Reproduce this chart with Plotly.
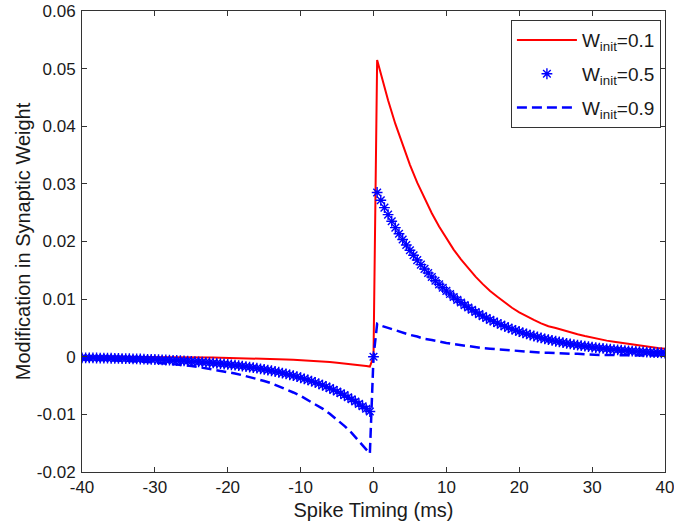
import plotly.graph_objects as go

# Sample times (ms) for the two line curves and the starred curve
t_lines = list(range(-40, 0)) + [-0.5, 0, 0.5] + list(range(1, 41))
t_stars = [i * 0.5 for i in range(-80, 81)]

# W_init = 0.1 (solid red), values at t_lines
w01_neg = [
    -0.00002, -0.00002, -0.00003, -0.00003, -0.00003, -0.00004, -0.00004,
    -0.00004, -0.00005, -0.00006, -0.00006, -0.00007, -0.00008, -0.00009,
    -0.00010, -0.00011, -0.00012, -0.00014, -0.00015, -0.00017, -0.00019,
    -0.00022, -0.00024, -0.00027, -0.00030, -0.00034, -0.00038, -0.00042,
    -0.00047, -0.00053, -0.00059, -0.00066, -0.00074, -0.00083, -0.00092,
    -0.00103, -0.00115, -0.00129, -0.00144, -0.00161]
w01_mid = [-0.0017, 0.0, 0.0515]
w01_pos = [
    0.0491, 0.0445, 0.0404, 0.0367, 0.0333, 0.0302, 0.0274, 0.0249, 0.0226,
    0.0205, 0.0186, 0.0169, 0.0153, 0.0139, 0.0126, 0.0114, 0.0104, 0.0094,
    0.0085, 0.0077, 0.0070, 0.0064, 0.0058, 0.0053, 0.0050, 0.0046, 0.0043,
    0.0039, 0.0036, 0.0033, 0.0030, 0.0028, 0.0026, 0.0024, 0.0022, 0.0020,
    0.0018, 0.0016, 0.0015, 0.0014]

# W_init = 0.9 (dashed blue), values at t_lines
w09_neg = [
    -0.0004, -0.0004, -0.0005, -0.0005, -0.0006, -0.0006, -0.0007, -0.0008,
    -0.0008, -0.0009, -0.0010, -0.0011, -0.0012, -0.0013, -0.0015, -0.0016,
    -0.0018, -0.0020, -0.0022, -0.0024, -0.0026, -0.0029, -0.0032, -0.0035,
    -0.0038, -0.0042, -0.0046, -0.0051, -0.0056, -0.0062, -0.0068, -0.0075,
    -0.0082, -0.0090, -0.0099, -0.0109, -0.0120, -0.0132, -0.0146, -0.0160]
w09_mid = [-0.0168, 0.0, 0.0057]
w09_pos = [
    0.0054, 0.0050, 0.0045, 0.0042, 0.0038, 0.0035, 0.0031, 0.0029, 0.0026,
    0.0024, 0.0022, 0.0020, 0.0018, 0.0017, 0.0015, 0.0014, 0.0013, 0.0011,
    0.0010, 0.0010, 0.0009, 0.0008, 0.0007, 0.0007, 0.0006, 0.0006, 0.0005,
    0.0005, 0.0004, 0.0004, 0.0003, 0.0003, 0.0003, 0.0003, 0.0002, 0.0002,
    0.0002, 0.0002, 0.0002, 0.0001]

# W_init = 0.5 (blue stars), values at t_stars
w05_neg = [
    -0.00018, -0.00019, -0.00020, -0.00021, -0.00022, -0.00023, -0.00024,
    -0.00025, -0.00026, -0.00028, -0.00029, -0.00031, -0.00032, -0.00034,
    -0.00036, -0.00037, -0.00039, -0.00041, -0.00044, -0.00046, -0.00048,
    -0.00051, -0.00053, -0.00056, -0.00059, -0.00062, -0.00065, -0.00069,
    -0.00072, -0.00076, -0.00080, -0.00084, -0.00089, -0.00093, -0.00098,
    -0.00103, -0.00108, -0.00114, -0.00120, -0.00126, -0.00133, -0.00140,
    -0.00147, -0.00154, -0.00162, -0.00171, -0.00180, -0.00189, -0.00199,
    -0.00209, -0.00220, -0.00231, -0.00243, -0.00256, -0.00269, -0.00283,
    -0.00298, -0.00313, -0.00329, -0.00346, -0.00364, -0.00383, -0.00403,
    -0.00424, -0.00446, -0.00469, -0.00493, -0.00518, -0.00545, -0.00574,
    -0.00603, -0.00634, -0.00667, -0.00702, -0.00738, -0.00776, -0.00817,
    -0.00859, -0.00903, -0.00950]
w05_zero = [0.0]
w05_pos = [
    0.02850, 0.02716, 0.02588, 0.02467, 0.02351, 0.02240, 0.02135, 0.02035,
    0.01939, 0.01848, 0.01761, 0.01678, 0.01599, 0.01524, 0.01453, 0.01384,
    0.01319, 0.01257, 0.01198, 0.01142, 0.01088, 0.01037, 0.00988, 0.00942,
    0.00897, 0.00855, 0.00815, 0.00777, 0.00740, 0.00705, 0.00672, 0.00641,
    0.00611, 0.00582, 0.00555, 0.00529, 0.00504, 0.00480, 0.00457, 0.00436,
    0.00415, 0.00396, 0.00377, 0.00360, 0.00343, 0.00327, 0.00311, 0.00297,
    0.00283, 0.00269, 0.00257, 0.00245, 0.00233, 0.00222, 0.00212, 0.00202,
    0.00192, 0.00183, 0.00175, 0.00166, 0.00159, 0.00151, 0.00144, 0.00137,
    0.00131, 0.00125, 0.00119, 0.00113, 0.00108, 0.00103, 0.00098, 0.00093,
    0.00089, 0.00085, 0.00081, 0.00077, 0.00073, 0.00070, 0.00067, 0.00064]

x_ticks = [-40, -30, -20, -10, 0, 10, 20, 30, 40]
x_tick_labels = ['-40', '-30', '-20', '-10', '0', '10', '20', '30', '40']
y_ticks = [-0.02, -0.01, 0, 0.01, 0.02, 0.03, 0.04, 0.05, 0.06]
y_tick_labels = ['-0.02', '-0.01', '0', '0.01', '0.02', '0.03', '0.04',
                 '0.05', '0.06']

FONT = 'Liberation Sans, Arial, sans-serif'
AXIS_COLOR = '#333333'
TEXT_COLOR = '#1a1a1a'

fig = go.Figure()

fig.add_trace(go.Scatter(
    x=t_lines, y=w01_neg + w01_mid + w01_pos,
    mode='lines', name='W<sub>init</sub>=0.1', legendgroup='a',
    line=dict(color='#ff0000', width=2)))

fig.add_trace(go.Scatter(
    x=t_stars, y=w05_neg + w05_zero + w05_pos,
    mode='markers', name='W<sub>init</sub>=0.5', legendgroup='b',
    marker=dict(symbol='asterisk-open', size=9, color='#0000ff',
                line=dict(color='#0000ff', width=1.4))))

fig.add_trace(go.Scatter(
    x=t_lines, y=w09_neg + w09_mid + w09_pos,
    mode='lines', name='W<sub>init</sub>=0.9', legendgroup='c',
    line=dict(color='#0000ff', width=2.5, dash='10px,5px')))

axis_common = dict(
    showgrid=False, zeroline=False, automargin=False,
    showline=True, linecolor=AXIS_COLOR, linewidth=1, mirror='ticks',
    ticks='inside', ticklen=5, tickcolor=AXIS_COLOR,
    ticklabeloverflow='allow',
    tickfont=dict(family=FONT, size=17, color=TEXT_COLOR))

fig.update_xaxes(
    range=[-40, 40], tickvals=x_ticks, ticktext=x_tick_labels,
    title=dict(text='Spike Timing (ms)', standoff=6,
               font=dict(family=FONT, size=20, color=TEXT_COLOR)),
    **axis_common)
fig.update_yaxes(
    range=[-0.02, 0.06], tickvals=y_ticks, ticktext=y_tick_labels,
    ticklabelstandoff=2,
    title=dict(text='Modification in Synaptic Weight', standoff=0,
               font=dict(family=FONT, size=20, color=TEXT_COLOR)),
    **axis_common)

fig.update_layout(
    width=674, height=531,
    margin=dict(l=82, r=9, t=11, b=59),
    paper_bgcolor='white', plot_bgcolor='white',
    font=dict(family=FONT, color=TEXT_COLOR),
    legend=dict(
        x=0.993, y=0.98, xanchor='right', yanchor='top',
        bgcolor='white', bordercolor=AXIS_COLOR, borderwidth=1,
        font=dict(family=FONT, size=19, color=TEXT_COLOR),
        traceorder='grouped', tracegroupgap=6,
        itemwidth=60))

# Drop the default page margin so the figure fills the window exactly
fig.write_html(
    'out.html',
    config={'displayModeBar': False},
    post_script="document.body.style.margin = '0';")
